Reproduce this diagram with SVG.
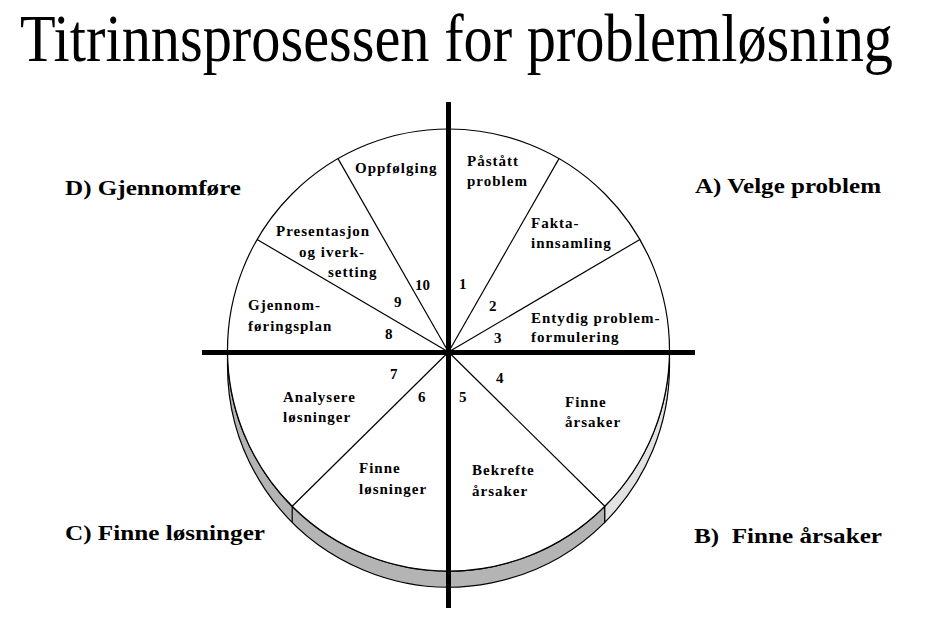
<svg xmlns="http://www.w3.org/2000/svg" width="928" height="630" viewBox="0 0 928 630">
<style>
.lbl{font-family:"Liberation Serif","Times New Roman",serif;font-weight:bold;font-size:15px;letter-spacing:1px;fill:#000}
.num{font-family:"Liberation Serif","Times New Roman",serif;font-weight:bold;font-size:15px;fill:#000}
.quad{font-family:"Liberation Serif","Times New Roman",serif;font-weight:bold;font-size:22px;fill:#000}
.title{font-family:"Liberation Serif","Times New Roman",serif;font-size:58px;fill:#000}
.thin{stroke:#000;stroke-width:1.2;fill:none}
.axis{stroke:#000;stroke-width:5}
</style>
<rect width="928" height="630" fill="#fff"/>
<text class="title" x="20" y="0" transform="translate(0,61) scale(1,1.15)" textLength="873" lengthAdjust="spacingAndGlyphs">Titrinnsprosessen for problemløsning</text>

<g id="pie-side">
  <path d="M 227.5 350 A 221 221 0 0 0 604.8 506.3 L 604.8 522.3 A 221 221 0 0 1 227.5 366 Z" fill="#b4b4b4" stroke="#000" stroke-width="1.2"/>
  <path d="M 604.8 506.3 A 221 221 0 0 0 669.5 350 L 669.5 366 A 221 221 0 0 1 604.8 522.3 Z" fill="#e2e2e2" stroke="#000" stroke-width="1.2"/>
  <line class="thin" x1="292.2" y1="506.3" x2="292.2" y2="522.3"/>
</g>

<g id="pie-top">
  <circle cx="448.5" cy="350" r="221" fill="#fff" stroke="#000" stroke-width="1.2"/>
</g>

<g id="connectors">
  <line class="thin" x1="448.5" y1="352" x2="338" y2="158.6"/>
  <line class="thin" x1="448.5" y1="352" x2="257.1" y2="239.5"/>
  <line class="thin" x1="448.5" y1="352" x2="559" y2="158.6" stroke-width="1.8"/>
  <line class="thin" x1="448.5" y1="352" x2="639.9" y2="239.5"/>
  <line class="thin" x1="448.5" y1="352" x2="604.8" y2="506.3"/>
  <line class="thin" x1="448.5" y1="352" x2="292.2" y2="506.3"/>
  <line class="axis" x1="448.5" y1="102" x2="448.5" y2="608"/>
  <line class="axis" x1="202" y1="352.5" x2="695" y2="352.5"/>
</g>

<g id="step1"><text class="lbl" x="467" y="166">Påstått</text><text class="lbl" x="467" y="186">problem</text><text class="num" x="459" y="289">1</text></g>
<g id="step2"><text class="lbl" x="531" y="228">Fakta-</text><text class="lbl" x="531" y="248">innsamling</text><text class="num" x="489" y="311">2</text></g>
<g id="step3"><text class="lbl" x="531" y="323">Entydig problem-</text><text class="lbl" x="531" y="342">formulering</text><text class="num" x="494" y="343">3</text></g>
<g id="step4"><text class="lbl" x="565" y="407">Finne</text><text class="lbl" x="565" y="427">årsaker</text><text class="num" x="496" y="383">4</text></g>
<g id="step5"><text class="lbl" x="472" y="475">Bekrefte</text><text class="lbl" x="472" y="496">årsaker</text><text class="num" x="459" y="402">5</text></g>
<g id="step6"><text class="lbl" x="359" y="473">Finne</text><text class="lbl" x="359" y="494">løsninger</text><text class="num" x="418" y="402">6</text></g>
<g id="step7"><text class="lbl" x="283" y="402">Analysere</text><text class="lbl" x="283" y="422">løsninger</text><text class="num" x="390" y="379">7</text></g>
<g id="step8"><text class="lbl" x="248" y="310">Gjennom-</text><text class="lbl" x="248" y="331">føringsplan</text><text class="num" x="385" y="339">8</text></g>
<g id="step9"><text class="lbl" x="276" y="236">Presentasjon</text><text class="lbl" x="299" y="257">og iverk-</text><text class="lbl" x="328" y="277">setting</text><text class="num" x="394" y="307">9</text></g>
<g id="step10"><text class="lbl" x="355" y="173">Oppfølging</text><text class="num" x="415" y="290">10</text></g>

<g id="quadA"><text class="quad" x="695" y="193" textLength="186" lengthAdjust="spacingAndGlyphs">A) Velge problem</text></g>
<g id="quadB"><text class="quad" x="694" y="543" textLength="188" lengthAdjust="spacingAndGlyphs" xml:space="preserve">B)  Finne årsaker</text></g>
<g id="quadC"><text class="quad" x="65" y="540" textLength="200" lengthAdjust="spacingAndGlyphs">C) Finne løsninger</text></g>
<g id="quadD"><text class="quad" x="65" y="195" textLength="176" lengthAdjust="spacingAndGlyphs">D) Gjennomføre</text></g>
</svg>
